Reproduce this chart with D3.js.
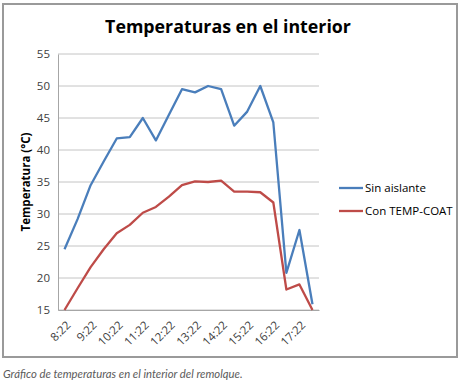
<!DOCTYPE html>
<html>
<head>
<meta charset="utf-8">
<script src="https://cdn.jsdelivr.net/npm/d3@7"></script>
<style>
  body { margin: 0; background: #fff; }
  svg { display: block; }
</style>
</head>
<body>
<svg id="chart"></svg>
<script>
// data
var horas = ['8:22','8:52','9:22','9:52','10:22','10:52','11:22','11:52','12:22','12:52',
             '13:22','13:52','14:22','14:52','15:22','15:52','16:22','16:52','17:22','17:52'];
var sinAislante = [24.5, 29.2, 34.5, 38.2, 41.8, 42.0, 45.0, 41.5, 45.5, 49.5,
                   49.0, 50.0, 49.5, 43.8, 46.0, 50.0, 44.3, 20.8, 27.5, 15.9];
var conTempCoat = [15.0, 18.4, 21.7, 24.5, 27.0, 28.3, 30.2, 31.1, 32.7, 34.5,
                   35.1, 35.0, 35.2, 33.5, 33.5, 33.4, 31.8, 18.2, 19.0, 15.0];
var yTicks = [15, 20, 25, 30, 35, 40, 45, 50, 55];

var series = [
  {name: 'Sin aislante', values: sinAislante, color: '#4a7ebb'},
  {name: 'Con TEMP-COAT', values: conTempCoat, color: '#be4b48'}
];

drawChart();

function drawChart(){
    var W = 462, H = 385;
    var plot = {left: 58, right: 319, top: 54, bottom: 310};

    var svg = d3.select('#chart').attr('width', W).attr('height', H);

    // outer frame
    svg.append('rect')
        .attr('x', 3).attr('y', 4)
        .attr('width', 454).attr('height', 353)
        .attr('fill', '#fff')
        .attr('stroke', '#9a9a9a')
        .attr('stroke-width', 2);

    // title
    svg.append('text')
        .attr('x', 228).attr('y', 33)
        .attr('text-anchor', 'middle')
        .style('font-family', 'Open Sans, sans-serif')
        .style('font-weight', 'bold')
        .style('font-size', '17.8px')
        .attr('fill', '#000')
        .text('Temperaturas en el interior');

    var x = d3.scaleBand()
        .domain(horas)
        .range([plot.left, plot.right]);
    var y = d3.scaleLinear()
        .domain([15, 55])
        .range([plot.bottom, plot.top]);

    // gridlines
    svg.append('g')
        .selectAll('line')
        .data(yTicks)
        .enter().append('line')
        .attr('x1', plot.left).attr('x2', plot.right)
        .attr('y1', function(d){ return y(d); })
        .attr('y2', function(d){ return y(d); })
        .attr('stroke', '#c4c4c4')
        .attr('stroke-width', 1);

    // y axis
    var yAxis = svg.append('g')
        .attr('transform', 'translate(' + plot.left + ',0)')
        .call(d3.axisLeft(y).tickValues(yTicks).tickSize(0).tickPadding(8));
    yAxis.select('.domain').attr('stroke', '#a6a6a6');
    yAxis.selectAll('text')
        .style('font-family', 'Open Sans, sans-serif')
        .style('font-size', '11.5px')
        .attr('fill', '#404040');

    // x axis, every second label
    var xAxis = svg.append('g')
        .attr('transform', 'translate(0,' + plot.bottom + ')')
        .call(d3.axisBottom(x)
            .tickValues(horas.filter(function(d, i){ return i % 2 === 0; }))
            .tickSize(0));
    xAxis.select('.domain').attr('stroke', '#a6a6a6');
    xAxis.selectAll('text')
        .style('font-family', 'Open Sans, sans-serif')
        .style('font-size', '11.5px')
        .attr('fill', '#404040')
        .attr('text-anchor', 'end')
        .attr('transform', 'translate(4,13) rotate(-45)')
        .attr('dy', '0.35em')
        .attr('y', 0);

    // y axis title
    svg.append('text')
        .attr('transform', 'translate(30,' + ((plot.top + plot.bottom) / 2) + ') rotate(-90)')
        .attr('text-anchor', 'middle')
        .style('font-family', 'Open Sans, sans-serif')
        .style('font-weight', 'bold')
        .style('font-size', '11.5px')
        .attr('fill', '#000')
        .text('Temperatura (°C)');

    // lines
    var line = d3.line()
        .x(function(d, i){ return x(horas[i]) + x.bandwidth() / 2; })
        .y(function(d){ return y(d); });

    svg.append('g')
        .selectAll('path')
        .data(series)
        .enter().append('path')
        .attr('d', function(d){ return line(d.values); })
        .attr('fill', 'none')
        .attr('stroke', function(d){ return d.color; })
        .attr('stroke-width', 2.3)
        .attr('stroke-linejoin', 'round');

    // legend
    var legend = svg.append('g')
        .selectAll('g')
        .data(series)
        .enter().append('g')
        .attr('transform', function(d, i){ return 'translate(339,' + (188 + i * 23) + ')'; });
    legend.append('line')
        .attr('x1', 0).attr('x2', 24)
        .attr('stroke', function(d){ return d.color; })
        .attr('stroke-width', 2.3);
    legend.append('text')
        .attr('x', 26).attr('dy', '0.35em')
        .style('font-family', 'Open Sans, sans-serif')
        .style('font-size', '11.5px')
        .attr('fill', '#000')
        .text(function(d){ return d.name; });

    // caption
    svg.append('text')
        .attr('x', 3).attr('y', 378)
        .style('font-family', 'Lato, sans-serif')
        .style('font-style', 'italic')
        .style('font-size', '11.3px')
        .attr('fill', '#5a5a5a')
        .text('Gráfico de temperaturas en el interior del remolque.');
}
</script>
</body>
</html>
